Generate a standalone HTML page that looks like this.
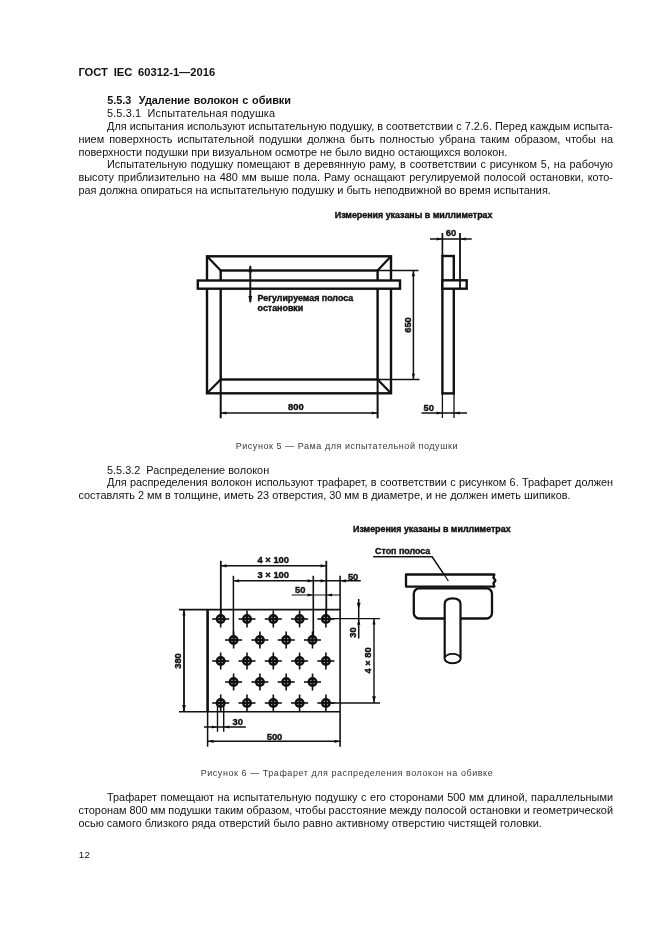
<!DOCTYPE html>
<html lang="ru">
<head>
<meta charset="utf-8">
<title>ГОСТ IEC 60312-1—2016</title>
<style>
html,body{margin:0;padding:0;background:#fff;}
body{width:661px;height:936px;position:relative;overflow:hidden;will-change:transform;font-family:"Liberation Sans",Arial,sans-serif;color:#111;}
.l{position:absolute;white-space:pre;font-size:10.9px;line-height:13px;height:13px;}
.b{font-weight:bold;}
.cap{position:absolute;white-space:nowrap;font-size:9px;line-height:12px;letter-spacing:0.55px;color:#3a3a3a;}
svg{position:absolute;left:0;top:0;}
svg text{font-family:"Liberation Sans",Arial,sans-serif;font-weight:bold;fill:#111;stroke:#111;stroke-width:0.4px;}
</style>
</head>
<body>
<div class="l b" style="left:78.4px;top:65.63px;font-size:11.2px;word-spacing:2.634px;">ГОСТ IEC 60312-1—2016</div>
<div class="l b" style="left:107.2px;top:93.73px;word-spacing:0.669px;">5.5.3&nbsp; Удаление волокон с обивки</div>
<div class="l" style="left:107px;top:106.83px;letter-spacing:0.140px;">5.5.3.1&nbsp; Испытательная подушка</div>
<div class="l" style="left:107px;top:120.13px;word-spacing:0.026px;">Для испытания используют испытательную подушку, в соответствии с 7.2.6. Перед каждым испыта-</div>
<div class="l" style="left:78.5px;top:132.83px;word-spacing:1.984px;">нием поверхность испытательной подушки должна быть полностью убрана таким образом, чтобы на</div>
<div class="l" style="left:78.5px;top:145.73px;">поверхности подушки при визуальном осмотре не было видно остающихся волокон.</div>
<div class="l" style="left:107px;top:158.33px;word-spacing:0.733px;">Испытательную подушку помещают в деревянную раму, в соответствии с рисунком 5, на рабочую</div>
<div class="l" style="left:78.5px;top:171.13px;word-spacing:0.861px;">высоту приблизительно на 480 мм выше пола. Раму оснащают регулируемой полосой остановки, кото-</div>
<div class="l" style="left:78.5px;top:184.23px;">рая должна опираться на испытательную подушку и быть неподвижной во время испытания.</div>
<div class="l" style="left:107px;top:463.83px;">5.5.3.2&nbsp; Распределение волокон</div>
<div class="l" style="left:107px;top:476.23px;word-spacing:0.229px;">Для распределения волокон используют трафарет, в соответствии с рисунком 6. Трафарет должен</div>
<div class="l" style="left:78.5px;top:489.43px;">составлять 2 мм в толщине, иметь 23 отверстия, 30 мм в диаметре, и не должен иметь шипиков.</div>
<div class="l" style="left:107px;top:791.33px;word-spacing:0.555px;">Трафарет помещают на испытательную подушку с его сторонами 500 мм длиной, параллельными</div>
<div class="l" style="left:78.5px;top:804.43px;word-spacing:-0.147px;">сторонам 800 мм подушки таким образом, чтобы расстояние между полосой остановки и геометрической</div>
<div class="l" style="left:78.5px;top:817.33px;">осью самого близкого ряда отверстий было равно активному отверстию чистящей головки.</div>
<div class="l" style="left:78.8px;top:848.33px;font-size:9.8px;letter-spacing:0.3px;">12</div>
<div class="cap" style="left:235.7px;top:439.7px;">Рисунок 5 — Рама для испытательной подушки</div>
<div class="cap" style="left:200.7px;top:767.1px;">Рисунок 6 — Трафарет для распределения волокон на обивке</div>
<svg width="661" height="936" viewBox="0 0 661 936">
<text x="334.8" y="218.4" font-size="8.9" text-anchor="start">Измерения указаны в миллиметрах</text>
<rect x="207.0" y="256.3" width="184.0" height="137.0" fill="none" stroke="#111" stroke-width="2.4"/>
<rect x="220.7" y="270.5" width="156.9" height="109.0" fill="none" stroke="#111" stroke-width="2.4"/>
<line x1="207.0" y1="256.3" x2="220.7" y2="270.5" stroke="#111" stroke-width="2.2"/>
<line x1="391.0" y1="256.3" x2="377.6" y2="270.5" stroke="#111" stroke-width="2.2"/>
<line x1="207.0" y1="393.3" x2="220.7" y2="379.5" stroke="#111" stroke-width="2.2"/>
<line x1="391.0" y1="393.3" x2="377.6" y2="379.5" stroke="#111" stroke-width="2.2"/>
<rect x="197.8" y="280.5" width="202.2" height="8.2" fill="#fff" stroke="#111" stroke-width="2.4"/>
<line x1="250.3" y1="266.0" x2="250.3" y2="302.0" stroke="#111" stroke-width="1.9"/>
<polygon points="250.3,264.8 252.2,272.3 248.4,272.3" fill="#111"/>
<polygon points="250.3,303.5 248.4,296.0 252.2,296.0" fill="#111"/>
<text x="257.6" y="301.3" font-size="8.9" text-anchor="start">Регулируемая полоса</text>
<text x="257.6" y="311.3" font-size="8.9" text-anchor="start">остановки</text>
<line x1="377.6" y1="270.5" x2="418.5" y2="270.5" stroke="#111" stroke-width="1.3"/>
<line x1="377.6" y1="379.5" x2="419.5" y2="379.5" stroke="#111" stroke-width="1.3"/>
<line x1="413.4" y1="271.0" x2="413.4" y2="379.0" stroke="#111" stroke-width="1.5"/>
<polygon points="413.4,270.8 415.0,276.3 411.8,276.3" fill="#111"/>
<polygon points="413.4,379.2 411.8,373.7 415.0,373.7" fill="#111"/>
<text x="411.4" y="325.0" font-size="9.4" text-anchor="middle" transform="rotate(-90 411.4 325.0)">650</text>
<line x1="220.7" y1="379.5" x2="220.7" y2="418.3" stroke="#111" stroke-width="2"/>
<line x1="377.6" y1="379.5" x2="377.6" y2="418.3" stroke="#111" stroke-width="2"/>
<line x1="221.0" y1="413.0" x2="377.3" y2="413.0" stroke="#111" stroke-width="1.7"/>
<polygon points="221.0,413.0 226.5,411.4 226.5,414.6" fill="#111"/>
<polygon points="377.3,413.0 371.8,414.6 371.8,411.4" fill="#111"/>
<text x="288.0" y="410.3" font-size="9.4" text-anchor="start">800</text>
<rect x="442.4" y="256.0" width="11.4" height="137.4" fill="none" stroke="#111" stroke-width="2.4"/>
<line x1="460.0" y1="233.0" x2="460.0" y2="288.0" stroke="#111" stroke-width="1.8"/>
<rect x="442.4" y="280.3" width="24.3" height="8.4" fill="#fff" stroke="#111" stroke-width="2.4"/>
<line x1="460.0" y1="281.0" x2="460.0" y2="288.0" stroke="#111" stroke-width="1.8"/>
<line x1="442.4" y1="233.0" x2="442.4" y2="256.0" stroke="#111" stroke-width="1.7"/>
<line x1="430.0" y1="239.0" x2="471.7" y2="239.0" stroke="#111" stroke-width="1.6"/>
<polygon points="442.2,239.0 436.7,240.6 436.7,237.4" fill="#111"/>
<polygon points="460.2,239.0 465.7,237.4 465.7,240.6" fill="#111"/>
<text x="445.7" y="236.4" font-size="9.4" text-anchor="start">60</text>
<line x1="442.4" y1="393.4" x2="442.4" y2="418.0" stroke="#111" stroke-width="1.3"/>
<line x1="454.0" y1="393.4" x2="454.0" y2="418.0" stroke="#111" stroke-width="1.3"/>
<line x1="421.5" y1="413.0" x2="467.0" y2="413.0" stroke="#111" stroke-width="1.5"/>
<polygon points="442.2,413.0 436.7,414.6 436.7,411.4" fill="#111"/>
<polygon points="454.2,413.0 459.7,411.4 459.7,414.6" fill="#111"/>
<text x="423.6" y="410.8" font-size="9.4" text-anchor="start">50</text>
<text x="353.0" y="532.0" font-size="8.9" text-anchor="start">Измерения указаны в миллиметрах</text>
<line x1="179.0" y1="609.6" x2="340.1" y2="609.6" stroke="#111" stroke-width="1.6"/>
<line x1="179.0" y1="711.8" x2="340.1" y2="711.8" stroke="#111" stroke-width="1.6"/>
<line x1="207.6" y1="609.0" x2="207.6" y2="712.0" stroke="#111" stroke-width="2.6"/>
<line x1="207.6" y1="712.0" x2="207.6" y2="746.7" stroke="#111" stroke-width="1.5"/>
<line x1="340.1" y1="575.8" x2="340.1" y2="746.7" stroke="#111" stroke-width="1.6"/>
<line x1="220.8" y1="560.8" x2="220.8" y2="619.0" stroke="#111" stroke-width="1.8"/>
<line x1="326.3" y1="560.8" x2="326.3" y2="619.0" stroke="#111" stroke-width="1.8"/>
<line x1="221.0" y1="565.8" x2="326.0" y2="565.8" stroke="#111" stroke-width="1.6"/>
<polygon points="221.0,565.8 226.5,564.2 226.5,567.4" fill="#111"/>
<polygon points="326.1,565.8 320.6,567.4 320.6,564.2" fill="#111"/>
<text x="257.5" y="563.0" font-size="9.4" text-anchor="start">4 × 100</text>
<line x1="233.4" y1="575.8" x2="233.4" y2="640.0" stroke="#111" stroke-width="1.5"/>
<line x1="313.3" y1="575.8" x2="313.3" y2="640.0" stroke="#111" stroke-width="1.6"/>
<line x1="233.4" y1="580.8" x2="360.8" y2="580.8" stroke="#111" stroke-width="1.4"/>
<polygon points="233.6,580.8 239.1,579.2 239.1,582.4" fill="#111"/>
<polygon points="313.1,580.8 307.6,582.4 307.6,579.2" fill="#111"/>
<polygon points="326.1,580.8 320.6,582.4 320.6,579.2" fill="#111"/>
<polygon points="340.4,580.8 345.9,579.2 345.9,582.4" fill="#111"/>
<text x="257.5" y="578.3" font-size="9.4" text-anchor="start">3 × 100</text>
<text x="347.9" y="579.7" font-size="9.4" text-anchor="start">50</text>
<line x1="291.7" y1="595.0" x2="340.0" y2="595.0" stroke="#111" stroke-width="1.2"/>
<polygon points="313.1,595.0 307.6,596.6 307.6,593.4" fill="#111"/>
<polygon points="326.6,595.0 332.1,593.4 332.1,596.6" fill="#111"/>
<text x="295.0" y="592.5" font-size="9.4" text-anchor="start">50</text>
<line x1="326.0" y1="618.6" x2="380.0" y2="618.6" stroke="#111" stroke-width="1.4"/>
<line x1="326.0" y1="703.0" x2="380.0" y2="703.0" stroke="#111" stroke-width="1.4"/>
<line x1="358.7" y1="599.0" x2="358.7" y2="638.5" stroke="#111" stroke-width="1.5"/>
<polygon points="358.7,609.4 356.8,602.8 360.6,602.8" fill="#111"/>
<polygon points="358.7,619.2 360.3,624.7 357.1,624.7" fill="#111"/>
<line x1="374.0" y1="619.0" x2="374.0" y2="703.0" stroke="#111" stroke-width="1.4"/>
<polygon points="374.0,619.0 375.6,624.5 372.4,624.5" fill="#111"/>
<polygon points="374.0,702.8 372.1,696.2 375.9,696.2" fill="#111"/>
<text x="355.8" y="632.6" font-size="9.4" text-anchor="middle" transform="rotate(-90 355.8 632.6)">30</text>
<text x="371.3" y="660.4" font-size="9.4" text-anchor="middle" transform="rotate(-90 371.3 660.4)">4 × 80</text>
<line x1="184.0" y1="610.0" x2="184.0" y2="711.5" stroke="#111" stroke-width="1.8"/>
<polygon points="184.0,610.0 185.6,615.5 182.4,615.5" fill="#111"/>
<polygon points="184.0,711.5 182.1,704.9 185.9,704.9" fill="#111"/>
<text x="181.0" y="661.0" font-size="9.4" text-anchor="middle" transform="rotate(-90 181.0 661.0)">380</text>
<line x1="217.5" y1="703.0" x2="217.5" y2="731.7" stroke="#111" stroke-width="1.4"/>
<line x1="223.7" y1="703.0" x2="223.7" y2="731.7" stroke="#111" stroke-width="1.4"/>
<line x1="204.0" y1="727.0" x2="245.8" y2="727.0" stroke="#111" stroke-width="1.5"/>
<polygon points="217.3,727.0 211.8,728.6 211.8,725.4" fill="#111"/>
<polygon points="223.9,727.0 229.4,725.4 229.4,728.6" fill="#111"/>
<text x="232.5" y="724.7" font-size="9.4" text-anchor="start">30</text>
<line x1="208.0" y1="741.3" x2="340.0" y2="741.3" stroke="#111" stroke-width="1.4"/>
<polygon points="208.0,741.3 213.5,739.7 213.5,742.9" fill="#111"/>
<polygon points="340.0,741.3 334.5,742.9 334.5,739.7" fill="#111"/>
<text x="266.7" y="740.0" font-size="9.4" text-anchor="start">500</text>
<circle cx="220.7" cy="619" r="5" fill="#111"/>
<circle cx="219.2" cy="617.5" r="0.8" fill="#999"/>
<circle cx="222.2" cy="617.5" r="0.8" fill="#999"/>
<circle cx="219.2" cy="620.5" r="0.8" fill="#999"/>
<circle cx="222.2" cy="620.5" r="0.8" fill="#999"/>
<line x1="212.2" y1="619.0" x2="229.2" y2="619.0" stroke="#111" stroke-width="1.6"/>
<line x1="220.7" y1="610.5" x2="220.7" y2="627.5" stroke="#111" stroke-width="1.6"/>
<circle cx="247.0" cy="619" r="5" fill="#111"/>
<circle cx="245.5" cy="617.5" r="0.8" fill="#999"/>
<circle cx="248.5" cy="617.5" r="0.8" fill="#999"/>
<circle cx="245.5" cy="620.5" r="0.8" fill="#999"/>
<circle cx="248.5" cy="620.5" r="0.8" fill="#999"/>
<line x1="238.5" y1="619.0" x2="255.5" y2="619.0" stroke="#111" stroke-width="1.6"/>
<line x1="247.0" y1="610.5" x2="247.0" y2="627.5" stroke="#111" stroke-width="1.6"/>
<circle cx="273.3" cy="619" r="5" fill="#111"/>
<circle cx="271.8" cy="617.5" r="0.8" fill="#999"/>
<circle cx="274.8" cy="617.5" r="0.8" fill="#999"/>
<circle cx="271.8" cy="620.5" r="0.8" fill="#999"/>
<circle cx="274.8" cy="620.5" r="0.8" fill="#999"/>
<line x1="264.8" y1="619.0" x2="281.8" y2="619.0" stroke="#111" stroke-width="1.6"/>
<line x1="273.3" y1="610.5" x2="273.3" y2="627.5" stroke="#111" stroke-width="1.6"/>
<circle cx="299.6" cy="619" r="5" fill="#111"/>
<circle cx="298.1" cy="617.5" r="0.8" fill="#999"/>
<circle cx="301.1" cy="617.5" r="0.8" fill="#999"/>
<circle cx="298.1" cy="620.5" r="0.8" fill="#999"/>
<circle cx="301.1" cy="620.5" r="0.8" fill="#999"/>
<line x1="291.1" y1="619.0" x2="308.1" y2="619.0" stroke="#111" stroke-width="1.6"/>
<line x1="299.6" y1="610.5" x2="299.6" y2="627.5" stroke="#111" stroke-width="1.6"/>
<circle cx="325.9" cy="619" r="5" fill="#111"/>
<circle cx="324.4" cy="617.5" r="0.8" fill="#999"/>
<circle cx="327.4" cy="617.5" r="0.8" fill="#999"/>
<circle cx="324.4" cy="620.5" r="0.8" fill="#999"/>
<circle cx="327.4" cy="620.5" r="0.8" fill="#999"/>
<line x1="317.4" y1="619.0" x2="334.4" y2="619.0" stroke="#111" stroke-width="1.6"/>
<line x1="325.9" y1="610.5" x2="325.9" y2="627.5" stroke="#111" stroke-width="1.6"/>
<circle cx="233.6" cy="640" r="5" fill="#111"/>
<circle cx="232.1" cy="638.5" r="0.8" fill="#999"/>
<circle cx="235.1" cy="638.5" r="0.8" fill="#999"/>
<circle cx="232.1" cy="641.5" r="0.8" fill="#999"/>
<circle cx="235.1" cy="641.5" r="0.8" fill="#999"/>
<line x1="225.1" y1="640.0" x2="242.1" y2="640.0" stroke="#111" stroke-width="1.6"/>
<line x1="233.6" y1="631.5" x2="233.6" y2="648.5" stroke="#111" stroke-width="1.6"/>
<circle cx="259.9" cy="640" r="5" fill="#111"/>
<circle cx="258.4" cy="638.5" r="0.8" fill="#999"/>
<circle cx="261.4" cy="638.5" r="0.8" fill="#999"/>
<circle cx="258.4" cy="641.5" r="0.8" fill="#999"/>
<circle cx="261.4" cy="641.5" r="0.8" fill="#999"/>
<line x1="251.4" y1="640.0" x2="268.4" y2="640.0" stroke="#111" stroke-width="1.6"/>
<line x1="259.9" y1="631.5" x2="259.9" y2="648.5" stroke="#111" stroke-width="1.6"/>
<circle cx="286.2" cy="640" r="5" fill="#111"/>
<circle cx="284.7" cy="638.5" r="0.8" fill="#999"/>
<circle cx="287.7" cy="638.5" r="0.8" fill="#999"/>
<circle cx="284.7" cy="641.5" r="0.8" fill="#999"/>
<circle cx="287.7" cy="641.5" r="0.8" fill="#999"/>
<line x1="277.7" y1="640.0" x2="294.7" y2="640.0" stroke="#111" stroke-width="1.6"/>
<line x1="286.2" y1="631.5" x2="286.2" y2="648.5" stroke="#111" stroke-width="1.6"/>
<circle cx="312.5" cy="640" r="5" fill="#111"/>
<circle cx="311.0" cy="638.5" r="0.8" fill="#999"/>
<circle cx="314.0" cy="638.5" r="0.8" fill="#999"/>
<circle cx="311.0" cy="641.5" r="0.8" fill="#999"/>
<circle cx="314.0" cy="641.5" r="0.8" fill="#999"/>
<line x1="304.0" y1="640.0" x2="321.0" y2="640.0" stroke="#111" stroke-width="1.6"/>
<line x1="312.5" y1="631.5" x2="312.5" y2="648.5" stroke="#111" stroke-width="1.6"/>
<circle cx="220.7" cy="661" r="5" fill="#111"/>
<circle cx="219.2" cy="659.5" r="0.8" fill="#999"/>
<circle cx="222.2" cy="659.5" r="0.8" fill="#999"/>
<circle cx="219.2" cy="662.5" r="0.8" fill="#999"/>
<circle cx="222.2" cy="662.5" r="0.8" fill="#999"/>
<line x1="212.2" y1="661.0" x2="229.2" y2="661.0" stroke="#111" stroke-width="1.6"/>
<line x1="220.7" y1="652.5" x2="220.7" y2="669.5" stroke="#111" stroke-width="1.6"/>
<circle cx="247.0" cy="661" r="5" fill="#111"/>
<circle cx="245.5" cy="659.5" r="0.8" fill="#999"/>
<circle cx="248.5" cy="659.5" r="0.8" fill="#999"/>
<circle cx="245.5" cy="662.5" r="0.8" fill="#999"/>
<circle cx="248.5" cy="662.5" r="0.8" fill="#999"/>
<line x1="238.5" y1="661.0" x2="255.5" y2="661.0" stroke="#111" stroke-width="1.6"/>
<line x1="247.0" y1="652.5" x2="247.0" y2="669.5" stroke="#111" stroke-width="1.6"/>
<circle cx="273.3" cy="661" r="5" fill="#111"/>
<circle cx="271.8" cy="659.5" r="0.8" fill="#999"/>
<circle cx="274.8" cy="659.5" r="0.8" fill="#999"/>
<circle cx="271.8" cy="662.5" r="0.8" fill="#999"/>
<circle cx="274.8" cy="662.5" r="0.8" fill="#999"/>
<line x1="264.8" y1="661.0" x2="281.8" y2="661.0" stroke="#111" stroke-width="1.6"/>
<line x1="273.3" y1="652.5" x2="273.3" y2="669.5" stroke="#111" stroke-width="1.6"/>
<circle cx="299.6" cy="661" r="5" fill="#111"/>
<circle cx="298.1" cy="659.5" r="0.8" fill="#999"/>
<circle cx="301.1" cy="659.5" r="0.8" fill="#999"/>
<circle cx="298.1" cy="662.5" r="0.8" fill="#999"/>
<circle cx="301.1" cy="662.5" r="0.8" fill="#999"/>
<line x1="291.1" y1="661.0" x2="308.1" y2="661.0" stroke="#111" stroke-width="1.6"/>
<line x1="299.6" y1="652.5" x2="299.6" y2="669.5" stroke="#111" stroke-width="1.6"/>
<circle cx="325.9" cy="661" r="5" fill="#111"/>
<circle cx="324.4" cy="659.5" r="0.8" fill="#999"/>
<circle cx="327.4" cy="659.5" r="0.8" fill="#999"/>
<circle cx="324.4" cy="662.5" r="0.8" fill="#999"/>
<circle cx="327.4" cy="662.5" r="0.8" fill="#999"/>
<line x1="317.4" y1="661.0" x2="334.4" y2="661.0" stroke="#111" stroke-width="1.6"/>
<line x1="325.9" y1="652.5" x2="325.9" y2="669.5" stroke="#111" stroke-width="1.6"/>
<circle cx="233.6" cy="682" r="5" fill="#111"/>
<circle cx="232.1" cy="680.5" r="0.8" fill="#999"/>
<circle cx="235.1" cy="680.5" r="0.8" fill="#999"/>
<circle cx="232.1" cy="683.5" r="0.8" fill="#999"/>
<circle cx="235.1" cy="683.5" r="0.8" fill="#999"/>
<line x1="225.1" y1="682.0" x2="242.1" y2="682.0" stroke="#111" stroke-width="1.6"/>
<line x1="233.6" y1="673.5" x2="233.6" y2="690.5" stroke="#111" stroke-width="1.6"/>
<circle cx="259.9" cy="682" r="5" fill="#111"/>
<circle cx="258.4" cy="680.5" r="0.8" fill="#999"/>
<circle cx="261.4" cy="680.5" r="0.8" fill="#999"/>
<circle cx="258.4" cy="683.5" r="0.8" fill="#999"/>
<circle cx="261.4" cy="683.5" r="0.8" fill="#999"/>
<line x1="251.4" y1="682.0" x2="268.4" y2="682.0" stroke="#111" stroke-width="1.6"/>
<line x1="259.9" y1="673.5" x2="259.9" y2="690.5" stroke="#111" stroke-width="1.6"/>
<circle cx="286.2" cy="682" r="5" fill="#111"/>
<circle cx="284.7" cy="680.5" r="0.8" fill="#999"/>
<circle cx="287.7" cy="680.5" r="0.8" fill="#999"/>
<circle cx="284.7" cy="683.5" r="0.8" fill="#999"/>
<circle cx="287.7" cy="683.5" r="0.8" fill="#999"/>
<line x1="277.7" y1="682.0" x2="294.7" y2="682.0" stroke="#111" stroke-width="1.6"/>
<line x1="286.2" y1="673.5" x2="286.2" y2="690.5" stroke="#111" stroke-width="1.6"/>
<circle cx="312.5" cy="682" r="5" fill="#111"/>
<circle cx="311.0" cy="680.5" r="0.8" fill="#999"/>
<circle cx="314.0" cy="680.5" r="0.8" fill="#999"/>
<circle cx="311.0" cy="683.5" r="0.8" fill="#999"/>
<circle cx="314.0" cy="683.5" r="0.8" fill="#999"/>
<line x1="304.0" y1="682.0" x2="321.0" y2="682.0" stroke="#111" stroke-width="1.6"/>
<line x1="312.5" y1="673.5" x2="312.5" y2="690.5" stroke="#111" stroke-width="1.6"/>
<circle cx="220.7" cy="703" r="5" fill="#111"/>
<circle cx="219.2" cy="701.5" r="0.8" fill="#999"/>
<circle cx="222.2" cy="701.5" r="0.8" fill="#999"/>
<circle cx="219.2" cy="704.5" r="0.8" fill="#999"/>
<circle cx="222.2" cy="704.5" r="0.8" fill="#999"/>
<line x1="212.2" y1="703.0" x2="229.2" y2="703.0" stroke="#111" stroke-width="1.6"/>
<line x1="220.7" y1="694.5" x2="220.7" y2="711.5" stroke="#111" stroke-width="1.6"/>
<circle cx="247.0" cy="703" r="5" fill="#111"/>
<circle cx="245.5" cy="701.5" r="0.8" fill="#999"/>
<circle cx="248.5" cy="701.5" r="0.8" fill="#999"/>
<circle cx="245.5" cy="704.5" r="0.8" fill="#999"/>
<circle cx="248.5" cy="704.5" r="0.8" fill="#999"/>
<line x1="238.5" y1="703.0" x2="255.5" y2="703.0" stroke="#111" stroke-width="1.6"/>
<line x1="247.0" y1="694.5" x2="247.0" y2="711.5" stroke="#111" stroke-width="1.6"/>
<circle cx="273.3" cy="703" r="5" fill="#111"/>
<circle cx="271.8" cy="701.5" r="0.8" fill="#999"/>
<circle cx="274.8" cy="701.5" r="0.8" fill="#999"/>
<circle cx="271.8" cy="704.5" r="0.8" fill="#999"/>
<circle cx="274.8" cy="704.5" r="0.8" fill="#999"/>
<line x1="264.8" y1="703.0" x2="281.8" y2="703.0" stroke="#111" stroke-width="1.6"/>
<line x1="273.3" y1="694.5" x2="273.3" y2="711.5" stroke="#111" stroke-width="1.6"/>
<circle cx="299.6" cy="703" r="5" fill="#111"/>
<circle cx="298.1" cy="701.5" r="0.8" fill="#999"/>
<circle cx="301.1" cy="701.5" r="0.8" fill="#999"/>
<circle cx="298.1" cy="704.5" r="0.8" fill="#999"/>
<circle cx="301.1" cy="704.5" r="0.8" fill="#999"/>
<line x1="291.1" y1="703.0" x2="308.1" y2="703.0" stroke="#111" stroke-width="1.6"/>
<line x1="299.6" y1="694.5" x2="299.6" y2="711.5" stroke="#111" stroke-width="1.6"/>
<circle cx="325.9" cy="703" r="5" fill="#111"/>
<circle cx="324.4" cy="701.5" r="0.8" fill="#999"/>
<circle cx="327.4" cy="701.5" r="0.8" fill="#999"/>
<circle cx="324.4" cy="704.5" r="0.8" fill="#999"/>
<circle cx="327.4" cy="704.5" r="0.8" fill="#999"/>
<line x1="317.4" y1="703.0" x2="334.4" y2="703.0" stroke="#111" stroke-width="1.6"/>
<line x1="325.9" y1="694.5" x2="325.9" y2="711.5" stroke="#111" stroke-width="1.6"/>
<text x="375.0" y="553.6" font-size="8.9" text-anchor="start">Стоп полоса</text>
<polyline points="373.3,556.7 432,556.7 448.4,581" fill="none" stroke="#111" stroke-width="1.2"/>
<rect x="413.8" y="588.3" width="78.2" height="30.2" fill="#fff" stroke="#111" stroke-width="2.3" rx="5.5"/>
<path d="M494.4,574.5 H406 V586.6 H494.4 L493.4,583.5 L495.4,580.5 L493.4,577.5 Z" fill="#fff" stroke="#111" stroke-width="2.3" stroke-linejoin="round"/>
<polyline points="373.3,556.7 432,556.7 448.4,581" fill="none" stroke="#111" stroke-width="1.2"/>
<path d="M444.7,658.5 V604 Q444.7,598.4 452.6,598.4 Q460.5,598.4 460.5,604 V658.5 A7.9,4.6 0 0 1 444.7,658.5 Z" fill="#fff" stroke="#111" stroke-width="2.2"/>
<ellipse cx="452.6" cy="658.5" rx="7.9" ry="4.6" fill="#fff" stroke="#111" stroke-width="1.6"/>
</svg>
</body>
</html>
